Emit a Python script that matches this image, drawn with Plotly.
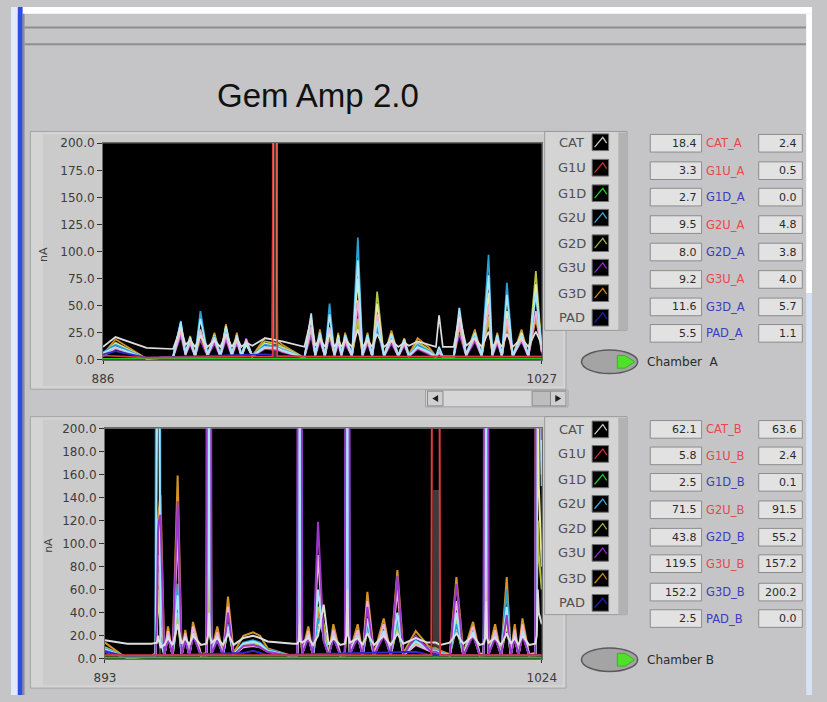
import plotly.graph_objects as go

W, H = 827, 702

# ---------------- DATA ----------------
CHANNELS = ["CAT", "G1U", "G1D", "G2U", "G2D", "G3U", "G3D", "PAD"]

VAL_A_LEFT = [18.4, 3.3, 2.7, 9.5, 8.0, 9.2, 11.6, 5.5]
VAL_A_RIGHT = [2.4, 0.5, 0.0, 4.8, 3.8, 4.0, 5.7, 1.1]
VAL_B_LEFT = [62.1, 5.8, 2.5, 71.5, 43.8, 119.5, 152.2, 2.5]
VAL_B_RIGHT = [63.6, 2.4, 0.1, 91.5, 55.2, 157.2, 200.2, 0.0]

TOP_XRANGE = [886, 1027]
BOT_XRANGE = [893, 1024]
TOP_YTICKS = [0, 25, 50, 75, 100, 125, 150, 175, 200]
BOT_YTICKS = [0, 20, 40, 60, 80, 100, 120, 140, 160, 180, 200]

TOP_X = [886, 890, 900, 908.5, 911, 912.5, 914, 915.6,
         917.3, 919.6, 921.8, 923.7, 925.5, 927.4, 929, 930.5,
         932, 934, 938, 940.5, 941.2, 942, 943.6, 950.7,
         952.9, 954.2, 955.7, 957.3, 958.8, 960.4, 961.6, 962.6,
         963.8, 966, 967.9, 969.4, 971, 972.5, 974.1, 976.3,
         978.7, 980.9, 982.8, 984.3, 987.1, 990.9, 993, 994,
         995.2, 998.7, 1000.5, 1002.7, 1005.5, 1007.7, 1009.9, 1011.1,
         1012.7, 1014.2, 1015.8, 1017.7, 1020.5, 1022.7, 1025.1, 1027]
TOP_CAT = [12, 21, 11, 10, 30, 14, 18, 12, 22, 12, 18, 12, 24, 12, 20, 12,
           16, 13, 20, 19, 19, 18, 17, 12, 38, 13, 20, 12, 24, 12, 18, 12,
           19, 12, 28, 12, 18, 12, 24, 12, 18, 12, 16, 13, 17, 14, 12, 41,
           12, 12, 40, 13, 20, 12, 26, 12, 18, 12, 24, 12, 20, 12, 26, 14]
TOP_G2U = [7, 14, 1, 3, 36, 6, 20, 4, 45, 5, 22, 4, 28, 5, 22, 4,
           18, 4, 14, 13, 13, 12, 10, 2, 36, 5, 24, 4, 52, 5, 20, 5,
           22, 4, 113, 5, 22, 4, 30, 4, 22, 4, 18, 4, 14, 8, 3, 10,
           3, 3, 42, 5, 24, 4, 97, 5, 22, 4, 71, 4, 22, 4, 60, 10]
TOP_G2D = [5, 16, 1, 2, 28, 5, 17, 3, 24, 4, 20, 3, 25, 4, 19, 3,
           15, 3, 17, 16, 16, 15, 12, 2, 28, 4, 22, 3, 26, 4, 22, 4,
           20, 3, 38, 4, 20, 3, 63, 3, 21, 3, 17, 3, 17, 9, 3, 8,
           3, 3, 30, 4, 22, 3, 40, 4, 20, 3, 35, 3, 24, 3, 82, 8]
TOP_G3U = [3, 10, 1, 2, 22, 4, 14, 3, 18, 3, 15, 3, 18, 3, 15, 3,
           20, 3, 10, 9, 9, 9, 7, 2, 22, 3, 17, 3, 20, 3, 14, 3,
           15, 3, 48, 3, 15, 3, 28, 3, 15, 3, 13, 3, 10, 5, 2, 6,
           2, 2, 24, 3, 17, 3, 55, 3, 15, 3, 30, 3, 17, 3, 40, 6]
TOP_G3D = [5, 19, 1, 3, 33, 6, 22, 4, 22, 5, 25, 4, 33, 5, 25, 4,
           17, 4, 20, 19, 1000, 18, 14, 2, 32, 5, 28, 4, 25, 5, 25, 5,
           25, 4, 32, 5, 25, 4, 34, 4, 27, 4, 20, 5, 20, 11, 3, 9,
           3, 3, 32, 5, 28, 4, 36, 5, 25, 4, 32, 4, 28, 4, 38, 9]
TOP_X1 = [6, 12, 1, 3, 35, 6, 21, 4, 38, 5, 21, 4, 30, 5, 23, 4,
          16, 4, 12, 11, 11, 11, 9, 2, 43, 5, 25, 4, 42, 5, 21, 5,
          23, 4, 92, 5, 23, 4, 36, 4, 23, 4, 19, 4, 12, 7, 3, 12,
          3, 3, 48, 5, 25, 4, 78, 5, 23, 4, 60, 4, 23, 4, 62, 10]
TOP_X2 = [4, 11, 1, 2, 26, 5, 16, 3, 28, 4, 18, 3, 22, 4, 18, 3,
          19, 3, 11, 10, 10, 10, 8, 2, 30, 4, 20, 3, 30, 4, 17, 4,
          18, 3, 55, 4, 18, 3, 42, 3, 18, 3, 15, 3, 11, 6, 2, 7,
          2, 2, 34, 4, 20, 3, 50, 4, 18, 3, 38, 3, 19, 3, 45, 7]
TOP_X3 = [5, 15, 1, 2, 31, 5, 19, 3, 26, 4, 23, 3, 31, 4, 21, 3,
          14, 3, 15, 14, 1000, 13, 11, 2, 34, 4, 23, 3, 28, 4, 23, 4,
          21, 3, 75, 4, 21, 3, 52, 3, 24, 3, 17, 3, 15, 8, 3, 8,
          3, 3, 36, 4, 23, 3, 62, 4, 21, 3, 45, 3, 25, 3, 70, 8]
TOP_G1U_X = [886, 900, 940.5, 941.2, 942, 1027]
TOP_G1U = [4, 2, 3, 2000, 3, 3]
TOP_G1D_X = [886, 1027]
TOP_G1D = [1, 1]
TOP_PAD_X = [886, 890, 900, 938, 942, 950.7, 1027]
TOP_PAD = [5, 8, 2, 5, 4, 3, 3]
TOP_BAR_X = [941.2]
TOP_BAR_Y = [250]

BOT_X = [893, 899.7, 906.9, 908.15, 908.6, 908.9, 909.2, 909.65, 910.8, 911.9,
         913.3, 914.8, 916, 917.1, 918.3, 919.4, 921.8, 923.45, 923.9, 924.2,
         924.5, 924.95, 926.7, 928.4, 929.9, 931.6, 934.5, 937.4, 939.5, 941.8,
         949.6, 950.65, 951.1, 951.4, 951.7, 952.15, 954, 955.4, 956.9, 958.6,
         960.1, 961.5, 963.6, 964.95, 965.4, 965.7, 966.0, 966.45, 968.8, 970.3,
         971.7, 973.7, 976.6, 978.7, 980.7, 982.5, 986.2, 989.7, 990.9, 992.2,
         993.5, 996.4, 998.4, 1000.5, 1003.4, 1005.4, 1006.55, 1007.0, 1007.3, 1007.6,
         1008.05, 1010, 1011.8, 1013.5, 1014.7, 1015.9, 1017, 1018.2, 1020.2, 1022.05,
         1022.5, 1022.8, 1023.1, 1024]
BOT_CAT = [16, 13, 13, 14, 14, 20, 15, 10, 12, 18, 12, 30, 13, 18, 12, 20, 12, 13, 20, 40,
           20, 14, 18, 12, 22, 12, 18, 20, 18, 15, 13, 13, 15, 30, 15, 14, 18, 12, 20, 47,
           12, 18, 12, 13, 20, 60, 20, 14, 18, 12, 22, 12, 20, 12, 22, 13, 18, 14, 14, 14,
           12, 14, 22, 13, 20, 12, 13, 18, 50, 18, 14, 18, 12, 22, 13, 18, 12, 20, 12, 13,
           20, 60, 40, 30]
BOT_G2U = [9, 1, 2, 4, 1000, 1000, 1000, 20, 3, 22, 3, 65, 4, 20, 3, 24, 3, 4, 250, 1000,
           250, 5, 20, 3, 30, 4, 14, 16, 14, 8, 2, 4, 350, 1000, 350, 5, 22, 3, 35, 20,
           3, 22, 3, 4, 350, 1000, 350, 5, 22, 3, 30, 3, 25, 3, 35, 4, 16, 10, 8, 8,
           6, 3, 30, 4, 24, 3, 4, 350, 1000, 350, 5, 22, 3, 60, 4, 22, 3, 25, 3, 4,
           350, 1000, 600, 170]
BOT_G2D = [10, 1, 2, 4, 30, 75, 70, 60, 3, 20, 3, 40, 3, 18, 3, 22, 3, 4, 30, 90,
           30, 5, 18, 3, 28, 3, 12, 13, 12, 7, 2, 4, 60, 300, 60, 5, 20, 3, 45, 30,
           3, 20, 3, 4, 40, 130, 40, 5, 20, 3, 28, 3, 22, 3, 30, 3, 13, 8, 7, 7,
           5, 3, 35, 3, 22, 3, 4, 40, 110, 40, 5, 20, 3, 40, 3, 20, 3, 22, 3, 4,
           40, 120, 90, 60]
BOT_G3U = [7, 1, 2, 3, 40, 110, 120, 125, 3, 18, 3, 137, 3, 16, 3, 20, 3, 3, 1000, 1000,
           1000, 4, 16, 3, 40, 3, 11, 12, 10, 6, 2, 3, 1000, 1000, 1000, 4, 18, 3, 119, 15,
           3, 18, 3, 3, 1000, 1000, 1000, 4, 18, 3, 45, 3, 20, 3, 72, 3, 20, 9, 6, 6,
           4, 3, 65, 3, 20, 3, 3, 1000, 1000, 1000, 4, 18, 3, 38, 3, 18, 3, 20, 3, 3,
           1000, 1000, 1000, 190]
BOT_G3D = [14, 0, 2, 5, 50, 120, 130, 142, 4, 28, 4, 159, 5, 25, 4, 32, 4, 5, 1000, 1000,
           400, 6, 28, 4, 54, 5, 20, 23, 20, 9, 2, 4, 20, 80, 20, 6, 28, 4, 40, 22,
           4, 30, 4, 5, 25, 80, 25, 6, 30, 4, 58, 4, 35, 4, 77, 5, 24, 12, 9, 9,
           7, 4, 71, 5, 32, 4, 5, 30, 100, 30, 6, 30, 4, 71, 5, 30, 4, 35, 4, 5,
           1000, 1000, 700, 180]
BOT_X1 = [8, 1, 2, 4, 200, 1000, 300, 15, 3, 20, 3, 55, 4, 19, 3, 22, 3, 4, 80, 1000,
          80, 5, 19, 3, 28, 4, 13, 15, 13, 7, 2, 4, 100, 1000, 100, 5, 20, 3, 60, 18,
          3, 20, 3, 4, 100, 1000, 100, 5, 20, 3, 35, 3, 24, 3, 40, 4, 15, 9, 7, 7,
          5, 3, 40, 4, 23, 3, 4, 100, 1000, 100, 5, 20, 3, 45, 4, 20, 3, 24, 3, 4,
          100, 1000, 400, 150]
BOT_X2 = [6, 1, 2, 3, 40, 90, 85, 80, 3, 24, 3, 110, 3, 22, 3, 28, 3, 3, 400, 1000,
          150, 4, 23, 3, 45, 3, 10, 11, 10, 6, 2, 3, 40, 1000, 40, 4, 24, 3, 90, 16,
          3, 25, 3, 3, 60, 300, 60, 4, 25, 3, 50, 3, 30, 3, 60, 3, 12, 7, 6, 6,
          4, 3, 50, 3, 28, 3, 3, 60, 1000, 60, 4, 25, 3, 42, 3, 25, 3, 30, 3, 3,
          300, 1000, 500, 160]
BOT_X3 = [9, 1, 2, 3, 25, 60, 45, 30, 3, 21, 3, 35, 3, 20, 3, 25, 3, 4, 40, 300,
          40, 4, 20, 3, 26, 3, 13, 14, 12, 7, 2, 3, 30, 1000, 30, 4, 21, 3, 30, 28,
          3, 21, 3, 4, 50, 1000, 50, 4, 21, 3, 26, 3, 23, 3, 28, 3, 14, 8, 7, 7,
          5, 3, 28, 3, 22, 3, 4, 30, 300, 30, 4, 21, 3, 30, 3, 21, 3, 23, 3, 4,
          40, 300, 150, 80]
BOT_G1U_X = [893, 990.9, 992.2, 993.5, 1024]
BOT_G1U = [3, 3, 2000, 3, 3]
BOT_G1D_X = [893, 1024]
BOT_G1D = [1, 1]
BOT_PAD_X = [893, 899.7, 934.5, 937.4, 941.8, 986.2, 990.9, 1024]
BOT_PAD = [6, 2, 5, 7, 3, 6, 3, 3]
BOT_BAR_X = [909.4, 992.2]
BOT_BAR_Y = [162, 146]

for arr in [TOP_CAT, TOP_G2U, TOP_G2D, TOP_G3U, TOP_G3D, TOP_X1, TOP_X2, TOP_X3]:
    assert len(arr) == len(TOP_X), len(arr)
for arr in [BOT_CAT, BOT_G2U, BOT_G2D, BOT_G3U, BOT_G3D, BOT_X1, BOT_X2, BOT_X3]:
    assert len(arr) == len(BOT_X), len(arr)

# ---------------- STYLE ----------------
COL = dict(CAT="#dedede", G1U="#e03a3a", G1D="#22c422", G2U="#2aa0d8",
           G2D="#b4c24a", G3U="#9a36c8", G3D="#d49428", PAD="#2a2ad0",
           X1="#a8e6ff", X2="#f2b0d4", X3="#e6eea0")
ICON = dict(CAT="#c8c8c8", G1U="#d03030", G1D="#20d020", G2U="#40a8d8",
            G2D="#a0b040", G3U="#8a2ad0", G3D="#c88a20", PAD="#2020b0")
LABEL_COL = dict(CAT="#e84848", G1U="#e84848", G1D="#3c3cc0", G2U="#e84848",
                 G2D="#3c3cc0", G3U="#e84848", G3D="#3c3cc0", PAD="#3c3cc0")
FONT = "DejaVu Sans"


def px(x):
    return x / W


def py(y):
    return 1 - y / H


shapes = []
annotations = []


def rect(x0, y0, x1, y1, fill, line=None, lw=1):
    shapes.append(dict(type="rect", xref="paper", yref="paper",
                       x0=px(x0), x1=px(x1), y0=py(y1), y1=py(y0),
                       fillcolor=fill,
                       line=dict(color=line if line else fill, width=lw if line else 0),
                       layer="below"))


def poly(pts, fill=None, line=None, lw=1, closed=True):
    d = "M " + " L ".join(f"{px(x):.5f},{py(y):.5f}" for x, y in pts)
    if closed:
        d += " Z"
    shapes.append(dict(type="path", xref="paper", yref="paper", path=d,
                       fillcolor=fill if fill else "rgba(0,0,0,0)",
                       line=dict(color=line if line else "rgba(0,0,0,0)", width=lw),
                       layer="below"))


def hline(x0, x1, y, color, lw):
    shapes.append(dict(type="line", xref="paper", yref="paper",
                       x0=px(x0), x1=px(x1), y0=py(y), y1=py(y),
                       line=dict(color=color, width=lw), layer="below"))


def text(x, y, s, size, color, xanchor="center", family=FONT, angle=0):
    annotations.append(dict(x=px(x), y=py(y), xref="paper", yref="paper", text=s,
                            showarrow=False, xanchor=xanchor, yanchor="middle",
                            textangle=angle,
                            font=dict(size=size, color=color, family=family)))


# window chrome
rect(0, 0, 827, 7, "#ffffff")
rect(0, 0, 7, 702, "#e4ebf8")
rect(7, 0, 12, 702, "#2a4ee6")
rect(12, 7, 14, 702, "#8a8a8a")
hline(14, 821, 21, "#8e8e8e", 2)
hline(14, 821, 38, "#8e8e8e", 2)
rect(821, 7, 827, 292, "#ffffff")
rect(821, 292, 827, 702, "#d6e2f6")

text(317, 90, "Gem Amp 2.0", 33, "#111111", family="Liberation Sans")

# chart panels
for (y0, y1) in [(127, 390), (418, 695)]:
    rect(20, y0, 573, y1, "#d4d4d4", "#a4a4a4", 1)
    rect(33, y0 + 3, 570, y1 - 3, "#cbcbcb")

# black plot areas
rect(95, 139, 548, 360, "#000000")
rect(97, 430, 548, 665, "#000000")

# scrollbar
rect(428, 391, 575, 408, "#d6d6d6", "#a0a0a0", 1)
rect(430, 392, 446, 407, "#cfcfcf", "#8a8a8a", 1)
rect(538, 392, 557, 407, "#bdbdbd", "#8a8a8a", 1)
rect(557, 392, 573, 407, "#cfcfcf", "#8a8a8a", 1)
poly([(441, 396), (435, 399.5), (441, 403)], fill="#202020")
poly([(562, 396), (568, 399.5), (562, 403)], fill="#202020")

# legends
for (y0, y1, rows) in [(127, 330, [138, 164, 190, 215, 241, 266, 292, 317]),
                       (418, 620, [431, 456, 482, 507, 532, 557, 583, 608])]:
    rect(551, y0, 636, y1, "#d4d4d4", "#9a9a9a", 1)
    rect(627, y0 + 1, 636, y1, "#b2b2b2")
    for name, ry in zip(CHANNELS, rows):
        text(579, ry, name, 13, "#505050")
        rect(600, ry - 8.5, 617, ry + 8.5, "#000000", "#707070", 1)
        poly([(602.5, ry + 5), (611, ry - 5), (615, ry + 1)], line=ICON[name], lw=1.3, closed=False)


# indicators
def indicators(rows, left, right, suffix):
    for name, ry, lv, rv in zip(CHANNELS, rows, left, right):
        rect(660, ry - 9, 713, ry + 9, "#e2e2e2", "#8c8c8c", 1)
        rect(772, ry - 9, 817, ry + 9, "#e2e2e2", "#8c8c8c", 1)
        text(710, ry, f"{lv:.1f}", 11, "#2a2a2a", xanchor="right")
        text(814, ry, f"{rv:.1f}", 11, "#2a2a2a", xanchor="right")
        text(715, ry, f"{name}_{suffix}", 11.5, LABEL_COL[name], xanchor="left")


indicators([139, 167, 194, 222, 250, 278, 306, 333], VAL_A_LEFT, VAL_A_RIGHT, "A")
indicators([431, 458, 485, 513, 541, 568, 597, 624], VAL_B_LEFT, VAL_B_RIGHT, "B")

# chamber buttons
for cy, lab in [(362, "Chamber  A"), (666, "Chamber B")]:
    shapes.append(dict(type="circle", xref="paper", yref="paper",
                       x0=px(589), x1=px(647), y0=py(cy + 12), y1=py(cy - 12),
                       fillcolor="#a4a4a4", line=dict(color="#5a5a5a", width=1.5),
                       layer="below"))
    poly([(626, cy - 6.5), (634, cy - 6.5), (644, cy), (634, cy + 6.5), (626, cy + 6.5)],
         fill="#4fe02a", line="#3ab020", lw=1)
    text(655, cy, lab, 12, "#2a2a2a", xanchor="left")

# axis titles
text(34, 252, "nA", 11, "#404040", angle=-90)
text(38, 549, "nA", 11, "#404040", angle=-90)

# ---------------- TRACES ----------------
fig = go.Figure()


def add_chart(xgrid, dense, sparse, bar_x, bar_y, bar_w, order, lw, xa, ya):
    fig.add_trace(go.Bar(x=bar_x, y=bar_y, width=bar_w, marker=dict(color="#3c3c3c", line=dict(width=0)),
                         xaxis=xa, yaxis=ya, showlegend=False, hoverinfo="skip"))
    for key in order:
        if key in dense:
            xs, ys = xgrid, dense[key]
        else:
            xs, ys = sparse[key]
        fig.add_trace(go.Scatter(x=xs, y=ys, mode="lines", name=key,
                                 line=dict(color=COL[key], width=lw),
                                 xaxis=xa, yaxis=ya, showlegend=False, hoverinfo="skip"))


add_chart(TOP_X,
          dict(CAT=TOP_CAT, G2U=TOP_G2U, G2D=TOP_G2D, G3U=TOP_G3U, G3D=TOP_G3D,
               X1=TOP_X1, X2=TOP_X2, X3=TOP_X3),
          dict(G1U=(TOP_G1U_X, TOP_G1U), G1D=(TOP_G1D_X, TOP_G1D), PAD=(TOP_PAD_X, TOP_PAD)),
          TOP_BAR_X, TOP_BAR_Y, [1.3],
          ["G3U", "G3D", "G2D", "X3", "G2U", "X2", "X1", "CAT", "PAD", "G1D", "G1U"],
          1.7, "x", "y")
add_chart(BOT_X,
          dict(CAT=BOT_CAT, G2U=BOT_G2U, G2D=BOT_G2D, G3U=BOT_G3U, G3D=BOT_G3D,
               X1=BOT_X1, X2=BOT_X2, X3=BOT_X3),
          dict(G1U=(BOT_G1U_X, BOT_G1U), G1D=(BOT_G1D_X, BOT_G1D), PAD=(BOT_PAD_X, BOT_PAD)),
          BOT_BAR_X, BOT_BAR_Y, [0.7, 1.8],
          ["G3D", "X3", "G2D", "G2U", "X2", "X1", "G3U", "CAT", "PAD", "G1D", "G1U"],
          2.0, "x2", "y2")

tickfont = dict(family=FONT, size=12, color="#3c3c3c")
common_x = dict(ticks="outside", ticklen=3, tickcolor="#303030", tickfont=tickfont,
                showgrid=False, zeroline=False, showline=True, linecolor="#6a6a6a",
                linewidth=1, mirror=True, ticklabelstandoff=5, fixedrange=True)
common_y = dict(ticks="outside", ticklen=5, tickcolor="#303030", tickfont=tickfont,
                showgrid=False, zeroline=False, showline=True, linecolor="#6a6a6a",
                linewidth=1, mirror=True, tickformat=".1f", range=[0, 200], fixedrange=True)

fig.update_layout(
    width=W, height=H, autosize=False,
    margin=dict(l=0, r=0, t=0, b=0, pad=0),
    paper_bgcolor="#c5c5c7", plot_bgcolor="rgba(0,0,0,0)",
    showlegend=False, barmode="overlay", bargap=0,
    xaxis=dict(domain=[px(95), px(548)], range=TOP_XRANGE, anchor="y",
               tickvals=TOP_XRANGE, ticktext=[str(v) for v in TOP_XRANGE], **common_x),
    yaxis=dict(domain=[py(360), py(139)], anchor="x", tickvals=TOP_YTICKS, **common_y),
    xaxis2=dict(domain=[px(97), px(548)], range=BOT_XRANGE, anchor="y2",
                tickvals=BOT_XRANGE, ticktext=[str(v) for v in BOT_XRANGE], **common_x),
    yaxis2=dict(domain=[py(665), py(430)], anchor="x2", tickvals=BOT_YTICKS, **common_y),
    shapes=shapes, annotations=annotations,
)

# remove the default page margin so the 827x702 figure fills the window exactly
fig.write_html(
    "out.html",
    config={"displayModeBar": False},
    post_script=("document.body.style.margin='0px';"
                 "document.body.style.overflow='hidden';"
                 "document.documentElement.style.overflow='hidden';"),
)
